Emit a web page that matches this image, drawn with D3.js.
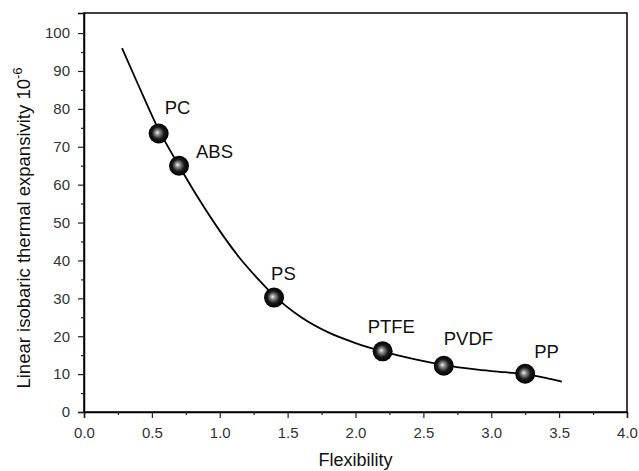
<!DOCTYPE html>
<html>
<head>
<meta charset="utf-8">
<script src="https://cdn.jsdelivr.net/npm/d3@7"></script>
<style>
  body { margin: 0; background: #fff; }
  svg { display: block; font-family: Arial, "Liberation Sans", sans-serif; }
</style>
</head>
<body>
<div id="chart"></div>
<script>
// polymers (markers)
const polymers = ["PC", "ABS", "PS", "PTFE", "PVDF", "PP"];
const flexibility = [0.55, 0.70, 1.40, 2.20, 2.65, 3.25];
const expansivity = [73.5, 65.0, 30.2, 16.0, 12.2, 10.1];

// fitted curve
const curveX = [0.28, 0.40, 0.55, 0.70, 0.85, 1.00, 1.15, 1.30, 1.40, 1.60, 1.80, 2.00, 2.20, 2.40, 2.65, 2.90, 3.10, 3.25, 3.40, 3.52];
const curveY = [96.0, 86.3, 74.5, 65.0, 56.0, 47.8, 40.5, 34.4, 30.7, 25.0, 21.0, 18.2, 16.0, 14.2, 12.4, 11.2, 10.5, 10.0, 9.0, 8.0];

const xTicks = [0, 0.5, 1.0, 1.5, 2.0, 2.5, 3.0, 3.5, 4.0];
const yTicks = [0, 10, 20, 30, 40, 50, 60, 70, 80, 90, 100];

const width = 639, height = 471;
const margin = {top: 13, right: 12, bottom: 59, left: 84};
const innerW = width - margin.left - margin.right;
const innerH = height - margin.top - margin.bottom;

// label offsets from marker centre (px)
const labelOffset = {
  PC: [6, -19], ABS: [17, -8], PS: [-3, -18],
  PTFE: [-15, -18], PVDF: [0, -21], PP: [9, -16]
};

const svg = d3.select("#chart").append("svg")
  .attr("width", width)
  .attr("height", height);

const defs = svg.append("defs");
const grad = defs.append("radialGradient")
  .attr("id", "ball")
  .attr("cx", "50%").attr("cy", "50%").attr("r", "50%")
  .attr("fx", "42%").attr("fy", "45%");
grad.append("stop").attr("offset", "0%").attr("stop-color", "#f2f2f2");
grad.append("stop").attr("offset", "25%").attr("stop-color", "#8a8a8a");
grad.append("stop").attr("offset", "60%").attr("stop-color", "#1a1a1a");
grad.append("stop").attr("offset", "100%").attr("stop-color", "#000");

const g = svg.append("g").attr("transform", `translate(${margin.left},${margin.top})`);

const x = d3.scaleLinear().domain([0, 4]).range([0, innerW]);
const y = d3.scaleLinear().domain([0, 105.3]).range([innerH, 0]);

// frame
g.append("rect")
  .attr("width", innerW)
  .attr("height", innerH)
  .attr("fill", "none")
  .attr("stroke", "#000")
  .attr("stroke-width", 1.5);

// minor ticks
const xMinor = d3.range(0.25, 4, 0.5);
const yMinor = d3.range(5, 105, 10);

g.append("g")
  .attr("transform", `translate(0,${innerH})`)
  .call(d3.axisBottom(x).tickValues(xTicks).tickFormat(d3.format(".1f")).tickSize(6).tickPadding(9));
g.append("g")
  .attr("transform", `translate(0,${innerH})`)
  .call(d3.axisBottom(x).tickValues(xMinor).tickFormat("").tickSize(3))
  .call(a => a.select(".domain").remove());

g.append("g")
  .call(d3.axisLeft(y).tickValues(yTicks).tickSize(6).tickPadding(8));
g.append("g")
  .call(d3.axisLeft(y).tickValues(yMinor).tickFormat("").tickSize(3))
  .call(a => a.select(".domain").remove());

g.selectAll(".tick line").attr("stroke", "#222").attr("stroke-width", 1.2);
g.selectAll(".domain").attr("stroke", "#000").attr("stroke-width", 1.5);
g.selectAll(".tick text").attr("font-size", 15).attr("fill", "#333");

// curve
const curvePts = curveX.map((v, i) => [v, curveY[i]]);
g.append("path")
  .datum(curvePts)
  .attr("fill", "none")
  .attr("stroke", "#000")
  .attr("stroke-width", 1.8)
  .attr("d", d3.line().x(d => x(d[0])).y(d => y(d[1])).curve(d3.curveMonotoneX));

// markers
const pts = polymers.map((name, i) => ({name, fx: flexibility[i], ex: expansivity[i]}));
const pg = g.selectAll("g.pt").data(pts).join("g")
  .attr("class", "pt")
  .attr("transform", d => `translate(${x(d.fx)},${y(d.ex)})`);
pg.append("circle")
  .attr("r", 10)
  .attr("fill", "url(#ball)");
pg.append("text")
  .attr("x", d => labelOffset[d.name][0])
  .attr("y", d => labelOffset[d.name][1])
  .attr("font-size", 18.5)
  .attr("fill", "#111")
  .text(d => d.name);

// axis titles
svg.append("text")
  .attr("x", margin.left + x(2.0))
  .attr("y", 466)
  .attr("text-anchor", "middle")
  .attr("font-size", 18)
  .attr("fill", "#111")
  .text("Flexibility");

const yt = svg.append("text")
  .attr("transform", "translate(30,228) rotate(-90)")
  .attr("text-anchor", "middle")
  .attr("font-size", 18.5)
  .attr("fill", "#111");
yt.append("tspan").text("Linear isobaric thermal expansivity 10");
yt.append("tspan").attr("dy", -8).attr("font-size", 13).text("-6");
</script>
</body>
</html>
